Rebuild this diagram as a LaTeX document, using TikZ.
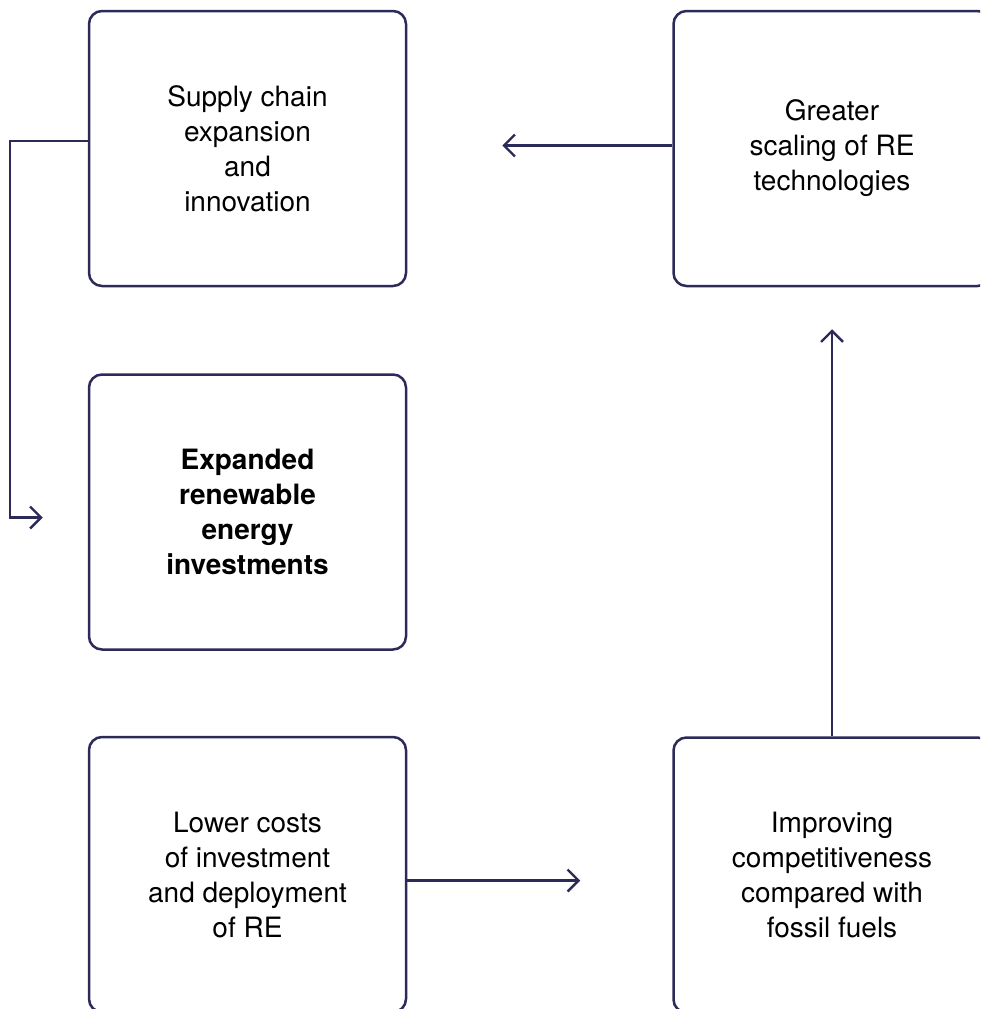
\documentclass[tikz,border=0pt]{standalone}
\usepackage{fontspec}
\setmainfont{TeX Gyre Heros}
\usetikzlibrary{positioning,arrows.meta}
\definecolor{loopnavy}{RGB}{44,42,88}
\tikzstyle{block} = [rectangle, draw=loopnavy, line width=2.5pt, text=black,
    align=center, rounded corners=13pt, minimum width=317pt, minimum height=275pt,
    font=\fontsize{28}{35}\selectfont]
\tikzstyle{line} = [draw=loopnavy, line width=2.4pt, -{Straight Barb[length=11pt,width=22pt]}]

\begin{document}
\begin{tikzpicture}[node distance=86pt]

	\useasboundingbox (0,0) rectangle (980pt,-1009pt);
	\clip (0,0) rectangle (980pt,-1009pt);

	\node [block] (supply) at (247.5pt,-148.5pt) {Supply chain\\expansion\\and\\innovation};
	\node [block, below=86pt of supply, font=\fontsize{28}{35}\selectfont\bfseries] (invest) {Expanded\\renewable\\energy\\investments};
	\node [block, below=85pt of invest] (lower) {Lower costs\\of investment\\and deployment\\of RE};

	\node [block, right=265pt of supply] (greater) {Greater\\scaling of RE\\technologies};
	\node [block, below=449pt of greater] (improve) {Improving\\competitiveness\\compared with\\fossil fuels};

	\coordinate [left=170pt of greater.west] (scaletip);
	\coordinate [left=45pt of invest.west] (investtip);
	\coordinate [left=92pt of improve.west] (costtip);
	\coordinate [below=42pt of greater.south] (compettip);
	\coordinate (coststart) at ([yshift=-6pt]lower.east);

	\path [line] ([yshift=3pt]greater.west) -- ([yshift=3pt]scaletip);
	\path [line] ([yshift=7.5pt]supply.west) -- ++(-78pt,0) |- ([yshift=-5.5pt]investtip);
	\path [line] (coststart) -- (coststart -| costtip);
	\path [line] (improve.north) -- (compettip);

\end{tikzpicture}
\end{document}
